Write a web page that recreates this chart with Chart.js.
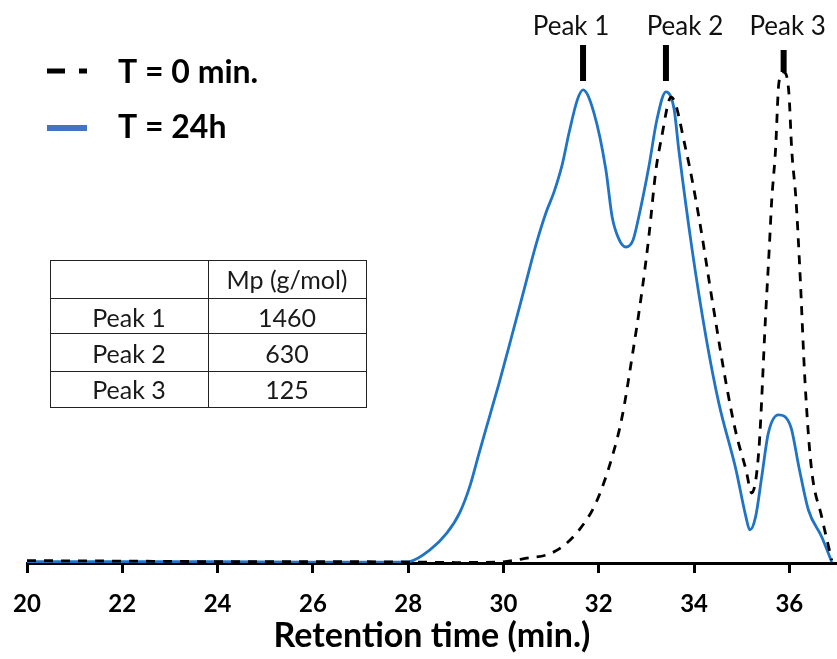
<!DOCTYPE html>
<html>
<head>
<meta charset="utf-8">
<script src="https://cdn.jsdelivr.net/npm/chart.js@4.4.0/dist/chart.umd.min.js"></script>
<style>
  html, body { margin: 0; padding: 0; background: #fff; }
  #wrap { width: 837px; height: 659px; position: relative; }
</style>
</head>
<body>
<div id="wrap"><canvas id="gpcChart"></canvas></div>
<script>
// T = 0 min. (dashed black)
const t0Time = [20.0, 22.0, 24.0, 26.0, 28.0, 29.0, 29.9, 30.54, 30.9, 31.23, 31.59, 31.94, 32.28, 32.49, 32.7, 32.91, 33.05, 33.2, 33.31, 33.52, 33.83, 34.1, 34.38, 34.67, 34.88, 35.09, 35.21, 35.36, 35.5, 35.58, 35.63, 35.71, 35.78, 35.88, 35.99, 36.05, 36.14, 36.22, 36.33, 36.46, 36.68, 36.89];
const t0Signal = [0.5, 0.4, 0.3, 0.3, 0.2, 0.1, 0.2, 1.1, 1.7, 3.4, 7.0, 12.7, 22.4, 30.9, 43.6, 57.7, 68.9, 83.1, 89.5, 98.5, 87.3, 73.2, 55.6, 38.1, 27.5, 19.7, 14.8, 23.9, 52.0, 66.8, 76.7, 87.3, 101.5, 103.8, 99.4, 87.3, 76.7, 62.0, 38.1, 20.3, 9.7, 0.6];

// T = 24h (solid blue)
const t24Time = [20.0, 22.0, 24.0, 26.0, 27.82, 28.03, 28.45, 28.81, 29.08, 29.29, 29.49, 29.7, 29.91, 30.18, 30.43, 30.68, 30.89, 31.06, 31.23, 31.38, 31.55, 31.67, 31.9, 32.15, 32.28, 32.43, 32.57, 32.72, 32.84, 33.05, 33.22, 33.41, 33.58, 33.68, 33.96, 34.25, 34.52, 34.88, 35.09, 35.17, 35.29, 35.42, 35.56, 35.77, 36.03, 36.2, 36.4, 36.68, 36.89];
const t24Signal = [0.3, 0.3, 0.3, 0.2, 0.2, 0.3, 2.7, 6.3, 10.6, 16.1, 23.3, 30.7, 38.1, 48.2, 57.7, 67.2, 74.0, 78.4, 84.1, 91.1, 97.9, 100, 95.1, 83.1, 73.2, 68.3, 66.8, 68.3, 73.2, 83.7, 93.7, 99.6, 96.0, 87.3, 66.2, 47.8, 33.8, 19.7, 9.7, 7.0, 9.7, 18.2, 27.5, 31.3, 28.8, 20.3, 11.2, 5.5, 0.2];

// peaks and table
const peakNames = ["Peak 1", "Peak 2", "Peak 3"];
const peakTimes = [31.67, 33.41, 35.88];
const peakMp = ["1460", "630", "125"];
const mpHeader = "Mp (g/mol)";

const xTicks = [20, 22, 24, 26, 28, 30, 32, 34, 36];

const seriesNames = ["T = 0 min.", "T = 24h"];
const curveBlue = "#1f74c6";
const legendBlue = "#4472c4";

function toPoints(xs, ys) {
    return xs.map((x, i) => ({ x: x, y: ys[i] }));
}

// peak labels, legend and Mp table drawn on top of the chart
const extras = {
    id: "extras",
    afterDraw(chart) {
        const ctx = chart.ctx;
        const xs = chart.scales.x;
        ctx.save();

        // peak markers
        const barTop = [45, 45, 50];
        const barBottom = [81, 81, 72];
        const labelShift = [-12, 19, 4];
        ctx.fillStyle = "#000";
        ctx.font = "26px Lato";
        ctx.textAlign = "center";
        ctx.textBaseline = "alphabetic";
        peakNames.forEach((name, i) => {
            const px = xs.getPixelForValue(peakTimes[i]);
            ctx.fillRect(px - 3, barTop[i], 6, barBottom[i] - barTop[i]);
            ctx.fillStyle = "#111";
            ctx.fillText(name, px + labelShift[i], 35);
            ctx.fillStyle = "#000";
        });

        // legend
        ctx.lineWidth = 5;
        ctx.strokeStyle = "#000";
        ctx.beginPath();
        ctx.moveTo(47, 71); ctx.lineTo(65, 71);
        ctx.moveTo(79, 71); ctx.lineTo(87, 71);
        ctx.stroke();
        ctx.lineWidth = 6;
        ctx.strokeStyle = legendBlue;
        ctx.beginPath();
        ctx.moveTo(47, 128); ctx.lineTo(87, 128);
        ctx.stroke();
        ctx.font = "bold 32px Lato";
        ctx.textAlign = "left";
        ctx.fillStyle = "#000";
        ctx.fillText(seriesNames[0], 118, 83);
        ctx.fillText(seriesNames[1], 118, 138);

        // table
        const left = 50, mid = 208, right = 366;
        const rows = [260, 298, 333, 371, 407];
        ctx.strokeStyle = "#222";
        ctx.lineWidth = 1;
        ctx.beginPath();
        rows.forEach(r => { ctx.moveTo(left, r + 0.5); ctx.lineTo(right, r + 0.5); });
        [left, mid, right].forEach(c => { ctx.moveTo(c + 0.5, rows[0]); ctx.lineTo(c + 0.5, rows[4] + 1); });
        ctx.stroke();
        ctx.font = "25px Lato";
        ctx.textAlign = "center";
        ctx.fillStyle = "#1a1a1a";
        ctx.fillText(mpHeader, (mid + right) / 2, 289);
        const base = [327, 363, 399];
        peakNames.forEach((name, i) => {
            ctx.fillText(name, (left + mid) / 2, base[i]);
            ctx.fillText(peakMp[i], (mid + right) / 2, base[i]);
        });
        ctx.restore();
    }
};

const ctx = document.getElementById("gpcChart").getContext("2d");
const gpcChart = new Chart(ctx, {
    type: "line",
    data: {
        datasets: [
            {
                label: seriesNames[0],
                data: toPoints(t0Time, t0Signal),
                borderColor: "#000",
                borderWidth: 2.8,
                borderDash: [9, 8],
                pointRadius: 0,
                fill: false,
                cubicInterpolationMode: "monotone",
            },
            {
                label: seriesNames[1],
                data: toPoints(t24Time, t24Signal),
                borderColor: curveBlue,
                borderWidth: 2.8,
                pointRadius: 0,
                fill: false,
                cubicInterpolationMode: "monotone",
            },
        ],
    },
    options: {
        responsive: true,
        maintainAspectRatio: false,
        animation: false,
        layout: { padding: { left: 27, right: 0, top: 19, bottom: 2.6 } },
        scales: {
            x: {
                type: "linear",
                min: 20,
                max: 37,
                afterBuildTicks: (scale) => { scale.ticks = xTicks.map(v => ({ value: v })); },
                ticks: {
                    color: "#000",
                    font: { family: "Lato", weight: "bold", size: 24, lineHeight: 58 / 24 },
                    padding: 2,
                    maxRotation: 0,
                    autoSkip: false,
                },
                grid: {
                    drawOnChartArea: false,
                    drawTicks: true,
                    tickLength: 10,
                    color: "#000",
                    lineWidth: 3,
                },
                border: { display: true, color: "#000", width: 3 },
                title: {
                    display: true,
                    text: "Retention time (min.)",
                    color: "#000",
                    font: { family: "Lato", weight: "bold", size: 34 },
                    padding: { top: -19.4, bottom: 0 },
                },
            },
            y: {
                display: false,
                min: 0,
                max: 115,
            },
        },
        plugins: {
            legend: { display: false },
            tooltip: { enabled: false },
        },
    },
    plugins: [extras],
});
</script>
</body>
</html>
